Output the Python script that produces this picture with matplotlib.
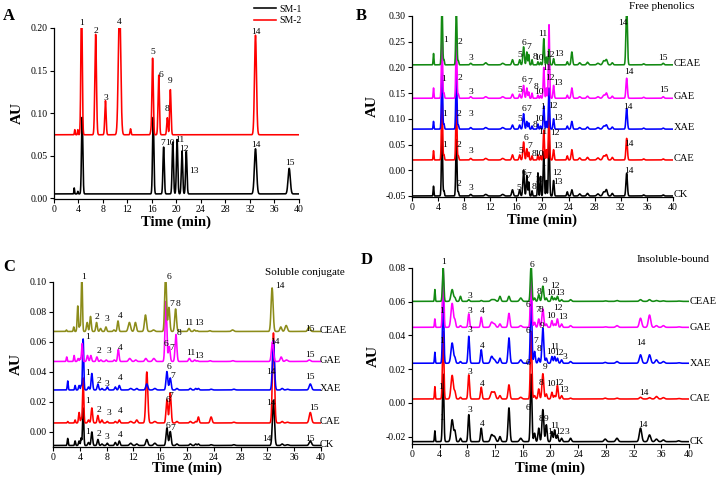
import numpy as np
import matplotlib
matplotlib.use("Agg")
import matplotlib.pyplot as plt

plt.rcParams['font.family'] = ['Liberation Serif', 'DejaVu Serif']

# time axis of every chromatogram (min)
t = np.linspace(0, 40, 4001)

names = ["CK", "CAE", "XAE", "GAE", "CEAE"]

# ---------------- A: standards (peak time, height above baseline, sigma)
a_sm1_base = 0.005
a_sm1_t = [3.3, 3.9, 4.6, 16.2, 17.9, 19.4, 20.1, 20.9, 21.6, 32.9, 38.4]
a_sm1_h = [0.007, 0.003, 0.09, 0.09, 0.055, 0.061, 0.064, 0.05, 0.05, 0.053, 0.03]
a_sm1_w = [0.05, 0.06, 0.11, 0.11, 0.11, 0.11, 0.11, 0.11, 0.11, 0.18, 0.18]

a_sm2_base = 0.0745
a_sm2_t = [3.4, 3.9, 4.5, 6.8, 8.4, 10.7, 12.5, 15.8, 16.1, 17.1, 18.5, 19.0, 32.9]
a_sm2_h = [0.006, 0.006, 0.16, 0.118, 0.04, 0.16, 0.007, 0.003, 0.09, 0.07, 0.02, 0.053, 0.117]
a_sm2_w = [0.06, 0.06, 0.11, 0.13, 0.11, 0.19, 0.08, 0.08, 0.11, 0.11, 0.1, 0.11, 0.16]

a_labels = [("1", 4.46, 0.206), ("2", 6.8, 0.197), ("3", 8.5, 0.118), ("4", 10.7, 0.207),
            ("5", 16.2, 0.172), ("6", 17.4, 0.145), ("8", 18.4, 0.105), ("9", 19.0, 0.1375),
            ("14", 32.9, 0.195), ("7", 17.8, 0.065), ("10", 18.9, 0.065), ("11", 20.5, 0.068),
            ("12", 21.2, 0.058), ("13", 22.9, 0.032), ("14", 32.9, 0.0625), ("15", 38.5, 0.041)]

# ---------------- B: free phenolics
b_base = [-0.05, 0.02, 0.08, 0.14, 0.205]
b_t = [3.3, 4.6, 4.9, 6.8, 7.1, 9.0, 11.3, 13.9, 15.4, 16.5, 17.1, 17.6, 17.9, 18.4, 19.3, 19.7,
       20.2, 20.6, 21.0, 21.7, 23.8, 24.5, 25.7, 26.9, 28.5, 29.4, 29.8, 30.7, 32.9, 35.5, 38.5]
b_w = [0.06, 0.09, 0.07, 0.09, 0.07, 0.12, 0.17, 0.17, 0.12, 0.1, 0.11, 0.09, 0.07, 0.07, 0.07, 0.07,
       0.09, 0.07, 0.09, 0.09, 0.09, 0.11, 0.14, 0.14, 0.17, 0.17, 0.14, 0.12, 0.11, 0.12, 0.12]
b_ck = [0.019, 0.12, 0.01, 0.11, 0.008, 0.003, 0.003, 0.003, 0.012, 0.012, 0.05, 0.04, 0.027, 0.01, 0.045, 0.038,
        0.086, 0.03, 0.12, 0.03, 0.008, 0.012, 0.004, 0.005, 0.004, 0.008, 0.012, 0.005, 0.044, 0.002, 0.002]
b_cae = [0.018, 0.12, 0.01, 0.11, 0.008, 0.003, 0.003, 0.003, 0.01, 0.01, 0.035, 0.022, 0.015, 0.008, 0.01, 0.008,
         0.058, 0.02, 0.09, 0.02, 0.008, 0.02, 0.004, 0.005, 0.004, 0.008, 0.01, 0.005, 0.042, 0.002, 0.002]
b_xae = [0.015, 0.12, 0.01, 0.11, 0.008, 0.003, 0.003, 0.003, 0.008, 0.008, 0.03, 0.015, 0.012, 0.006, 0.01, 0.006,
         0.045, 0.015, 0.08, 0.02, 0.006, 0.015, 0.003, 0.004, 0.003, 0.006, 0.008, 0.004, 0.04, 0.002, 0.002]
b_gae = [0.02, 0.12, 0.01, 0.11, 0.008, 0.003, 0.003, 0.003, 0.008, 0.008, 0.025, 0.02, 0.012, 0.01, 0.006, 0.005,
         0.06, 0.02, 0.143, 0.025, 0.006, 0.02, 0.003, 0.004, 0.003, 0.006, 0.01, 0.004, 0.039, 0.002, 0.003]
b_ceae = [0.022, 0.12, 0.01, 0.11, 0.008, 0.003, 0.004, 0.003, 0.01, 0.01, 0.035, 0.025, 0.02, 0.01, 0.006, 0.005,
          0.051, 0.015, 0.03, 0.012, 0.006, 0.025, 0.004, 0.005, 0.003, 0.008, 0.01, 0.004, 0.12, 0.002, 0.003]
b_labels = [
    # CEAE
    ("1", 5.2, 0.253), ("2", 7.3, 0.249), ("3", 9.0, 0.218), ("5", 16.5, 0.224), ("6", 17.2, 0.248),
    ("7", 17.9, 0.24), ("8", 18.8, 0.221), ("10", 19.5, 0.219), ("11", 20.1, 0.264), ("12", 21.2, 0.225),
    ("13", 22.5, 0.227), ("14", 32.4, 0.286), ("15", 38.5, 0.219),
    # GAE
    ("1", 4.9, 0.177), ("2", 7.4, 0.18), ("3", 9.1, 0.153), ("5", 16.5, 0.157), ("6", 17.1, 0.175),
    ("7", 18.0, 0.171), ("8", 19.0, 0.162), ("10", 19.5, 0.153), ("11", 20.6, 0.198), ("12", 21.1, 0.18),
    ("13", 22.3, 0.169), ("14", 33.2, 0.191), ("15", 38.6, 0.156),
    # XAE
    ("1", 5.0, 0.110), ("2", 7.2, 0.11), ("3", 9.0, 0.11), ("5", 16.5, 0.099), ("6", 17.1, 0.12),
    ("7", 17.9, 0.12), ("8", 18.8, 0.088), ("10", 19.5, 0.1), ("1", 20.0, 0.123), ("12", 21.6, 0.125),
    ("13", 22.3, 0.102), ("14", 33.1, 0.123),
    # CAE
    ("1", 5.0, 0.049), ("2", 7.2, 0.05), ("3", 9.0, 0.038), ("5", 16.7, 0.037), ("6", 17.5, 0.063),
    ("7", 18.0, 0.047), ("8", 18.7, 0.032), ("10", 19.5, 0.032), ("11", 20.1, 0.075), ("12", 21.9, 0.073),
    ("13", 22.3, 0.047), ("14", 33.2, 0.052),
    # CK
    ("2", 7.2, -0.027), ("3", 9.0, -0.034), ("5", 16.4, -0.034), ("6", 17.1, -0.005), ("7", 17.9, -0.011),
    ("8", 18.7, -0.032), ("10", 19.4, -0.019), ("1", 20.1, 0.013), ("12", 22.2, -0.006), ("13", 22.4, -0.023),
    ("14", 33.2, -0.001)]

# ---------------- C: soluble conjugate
c_base = [-0.009, 0.006, 0.028, 0.047, 0.067]
c_shift = [0.0, 0.0, 0.0, -0.15, -0.2]
c_t = [2.2, 3.3, 3.9, 4.2, 4.5, 5.3, 5.8, 6.7, 7.3, 8.1, 9.3, 9.9, 11.6, 12.5, 14.0, 15.2,
       17.0, 17.5, 18.5, 20.5, 21.3, 21.7, 23.6, 27.0, 32.9, 34.2, 35.0, 38.4]
c_w = [0.07, 0.07, 0.09, 0.07, 0.09, 0.11, 0.11, 0.11, 0.11, 0.11, 0.11, 0.11, 0.17, 0.14, 0.15, 0.17,
       0.13, 0.13, 0.13, 0.13, 0.11, 0.11, 0.14, 0.17, 0.15, 0.14, 0.17, 0.17]
c_ck = [0.0047, 0.003, 0.003, 0.005, 0.025, 0.002, 0.009, 0.004, 0.001, 0.0015, 0.002, 0.003, 0.0015, 0.001,
        0.004, 0.0015, 0.0117, 0.0093, 0.001, 0.001, 0.001, 0.001, 0.0005, 0.0005, 0.03, 0.001, 0.0005, 0.003]
c_cae = [0.001, 0.002, 0.007, 0.003, 0.03, 0.002, 0.01, 0.005, 0.002, 0.001, 0.001, 0.002, 0.001, 0.002,
         0.034, 0.001, 0.0155, 0.02, 0.001, 0.001, 0.001, 0.004, 0.004, 0.0005, 0.06, 0.001, 0.0005, 0.007]
c_xae = [0.006, 0.003, 0.003, 0.003, 0.034, 0.002, 0.011, 0.004, 0.001, 0.002, 0.002, 0.003, 0.001, 0.001,
         0.004, 0.001, 0.0123, 0.008, 0.001, 0.001, 0.001, 0.001, 0.0005, 0.0005, 0.033, 0.001, 0.0005, 0.004]
c_gae = [0.003, 0.004, 0.002, 0.002, 0.012, 0.004, 0.004, 0.003, 0.001, 0.001, 0.001, 0.008, 0.002, 0.001,
         0.002, 0.002, 0.04, 0.01, 0.018, 0.002, 0.001, 0.0005, 0.0005, 0.0005, 0.013, 0.003, 0.001, 0.001]
c_ceae = [0.001, 0.003, 0.017, 0.004, 0.04, 0.006, 0.01, 0.006, 0.002, 0.003, 0.001, 0.007, 0.006, 0.006,
          0.011, 0.001, 0.04, 0.016, 0.015, 0.002, 0.001, 0.0005, 0.0005, 0.001, 0.029, 0.003, 0.004, 0.003]
c_labels = [
    ("1", 4.6, 0.1035), ("2", 6.6, 0.0765), ("3", 8.1, 0.075), ("4", 10.1, 0.077), ("6", 17.3, 0.103),
    ("7", 17.7, 0.085), ("8", 18.6, 0.085), ("11", 20.2, 0.0725), ("13", 21.8, 0.0725), ("14", 33.8, 0.097),
    ("15", 38.4, 0.0685),
    ("1", 5.1, 0.0636), ("2", 6.9, 0.054), ("3", 8.3, 0.0537), ("4", 10.1, 0.056), ("6", 16.9, 0.0588),
    ("7", 17.7, 0.056), ("8", 18.8, 0.0663), ("11", 20.5, 0.0525), ("13", 21.8, 0.0508), ("14", 33.1, 0.0603),
    ("15", 38.3, 0.0514),
    ("1", 5.1, 0.0392), ("2", 6.9, 0.0337), ("3", 8.1, 0.0322), ("4", 10.0, 0.036), ("6", 17.3, 0.0432),
    ("7", 17.8, 0.0375), ("14", 32.5, 0.0397), ("15", 38.4, 0.0366),
    ("1", 5.1, 0.0208), ("2", 6.9, 0.0144), ("3", 8.3, 0.0126), ("4", 10.0, 0.0137), ("6", 17.1, 0.0211),
    ("7", 17.6, 0.0242), ("14", 32.5, 0.0193), ("15", 38.9, 0.016),
    ("1", 5.2, -0.0002), ("2", 6.8, -0.0011), ("3", 8.1, -0.0033), ("4", 10.0, -0.0018), ("6", 17.1, 0.0042),
    ("7", 17.8, 0.0027), ("14", 31.9, -0.0047), ("15", 38.4, -0.0047)]

# ---------------- D: insoluble-bound
d_base = [-0.023, 0.0023, 0.0235, 0.0448, 0.0602]
d_t = [3.3, 4.5, 5.8, 6.2, 7.0, 8.2, 10.0, 11.5, 11.9, 12.7, 14.0, 15.7, 17.2, 17.7, 18.3, 18.9, 19.4,
       20.2, 20.6, 21.0, 21.6, 22.9, 27.9, 29.6, 33.0, 34.3, 35.3, 36.3, 38.5]
d_w = [0.06, 0.1, 0.17, 0.11, 0.11, 0.11, 0.11, 0.17, 0.17, 0.13, 0.13, 0.17, 0.11, 0.11, 0.11, 0.13, 0.11,
       0.11, 0.11, 0.11, 0.11, 0.13, 0.17, 0.17, 0.17, 0.17, 0.17, 0.17, 0.17]
d_ck = [0.0064, 0.04, 0.013, 0.006, 0.002, 0.016, 0.008, 0.004, 0.003, 0.003, 0.020, 0.002, 0.04, 0.005, 0.008,
        0.019, 0.01, 0.006, 0.007, 0.004, 0.002, 0.002, 0.0015, 0.002, 0.008, 0.004, 0.0015, 0.001, 0.0005]
d_cae = [0.0073, 0.04, 0.014, 0.004, 0.001, 0.0143, 0.007, 0.004, 0.004, 0.002, 0.0084, 0.001, 0.04, 0.002, 0.006,
         0.015, 0.003, 0.004, 0.002, 0.008, 0.002, 0.0005, 0.0005, 0.0005, 0.001, 0.0008, 0.0015, 0.0008, 0.0003]
d_xae = [0.0065, 0.04, 0.012, 0.003, 0.001, 0.016, 0.008, 0.004, 0.002, 0.003, 0.015, 0.002, 0.04, 0.007, 0.003,
         0.021, 0.003, 0.004, 0.004, 0.003, 0.002, 0.001, 0.0005, 0.001, 0.005, 0.005, 0.002, 0.001, 0.0003]
d_gae = [0.005, 0.035, 0.0142, 0.004, 0.001, 0.008, 0.006, 0.003, 0.002, 0.002, 0.0083, 0.001, 0.03, 0.003, 0.005,
         0.011, 0.002, 0.004, 0.002, 0.005, 0.002, 0.001, 0.0003, 0.001, 0.0054, 0.0073, 0.001, 0.001, 0.0003]
d_ceae = [0.007, 0.02, 0.007, 0.002, 0.003, 0.001, 0.0005, 0.001, 0.001, 0.003, 0.003, 0.002, 0.022, 0.002, 0.004,
          0.009, 0.002, 0.003, 0.002, 0.003, 0.001, 0.001, 0.0003, 0.0005, 0.001, 0.001, 0.0005, 0.0003, 0.0002]
d_labels = [
    ("1", 4.6, 0.0838), ("3", 8.4, 0.0634), ("6", 17.3, 0.0818), ("8", 18.3, 0.066), ("9", 19.2, 0.0725),
    ("10", 20.0, 0.065), ("12", 20.7, 0.0693), ("13", 21.4, 0.065),
    ("1", 4.3, 0.0547), ("3", 8.4, 0.0547), ("4", 10.1, 0.0547), ("6", 16.7, 0.0581), ("7", 18.1, 0.055),
    ("8", 18.6, 0.055), ("10", 20.1, 0.0515), ("12", 21.1, 0.0565), ("13", 21.8, 0.0511),
    ("1", 4.2, 0.0369), ("3", 8.3, 0.0432), ("4", 10.1, 0.0338), ("6", 16.7, 0.0427), ("7", 17.9, 0.0367),
    ("8", 18.4, 0.032), ("9", 18.8, 0.0456), ("10", 20.0, 0.0304), ("11", 20.6, 0.033), ("12", 21.2, 0.0298),
    ("3", 22.1, 0.0274), ("14", 33.0, 0.0353),
    ("1", 4.1, 0.0097), ("3", 8.3, 0.0185), ("4", 10.2, 0.0112), ("6", 16.8, 0.0235), ("8", 18.6, 0.0116),
    ("9", 19.2, 0.0215), ("10", 20.1, 0.011), ("12", 21.2, 0.012), ("13", 22.0, 0.0077), ("14", 33.5, 0.006),
    ("1", 4.2, -0.0091), ("3", 8.3, -0.0042), ("4", 10.2, -0.0127), ("6", 16.7, -0.0032), ("8", 18.6, -0.0097),
    ("9", 19.4, -0.0097), ("1", 19.9, -0.017), ("11", 20.6, -0.0135), ("12", 21.4, -0.017), ("3", 22.3, -0.017),
    ("14", 33.3, -0.013)]


def trace(base, times, heights, widths, shift=0.0):
    y = np.full_like(t, base)
    for ti, hi, wi in zip(times, heights, widths):
        y += hi * np.exp(-0.5 * ((t - ti - shift) / wi) ** 2)
    return y


def style(ax, ylim, yticks, xlab_y, ylab_x):
    ax.set_xlim(0, 40)
    ax.set_ylim(*ylim)
    ax.set_xticks(np.arange(0, 41, 4))
    ax.set_yticks(yticks)
    ax.yaxis.set_major_formatter(matplotlib.ticker.FormatStrFormatter('%.2f'))
    for s in ['top', 'right']:
        ax.spines[s].set_visible(False)
    for s in ['left', 'bottom']:
        ax.spines[s].set_linewidth(0.9)
    ax.tick_params(direction='out', length=3, width=0.8, labelsize=7, pad=1.5)
    ax.set_xlabel("Time (min)", fontsize=10.5, fontweight='bold')
    ax.set_ylabel("AU", fontsize=11, fontweight='bold')
    ax.xaxis.set_label_coords(0.5, xlab_y)
    ax.yaxis.set_label_coords(ylab_x, 0.5)


def put_labels(ax, labels):
    for txt, x, y in labels:
        ax.text(x, y, txt, fontsize=6.8, ha='center', va='center')


fig = plt.figure(figsize=(7.18, 4.8), dpi=100)
LW = 1.15

# A
axA = fig.add_axes([0.0752, 0.5854, 0.3412, 0.3563])
axA.plot(t, trace(a_sm1_base, a_sm1_t, a_sm1_h, a_sm1_w), color='black', lw=LW, label='SM-1')
axA.plot(t, trace(a_sm2_base, a_sm2_t, a_sm2_h, a_sm2_w), color='red', lw=LW, label='SM-2')
style(axA, (-0.001, 0.20), np.arange(0, 0.201, 0.05), -0.094, -0.122)
put_labels(axA, a_labels)
axA.legend(loc='upper left', bbox_to_anchor=(0.80, 1.16), frameon=False, fontsize=7,
           handlelength=2.3, handletextpad=0.3, labelspacing=0.25, borderaxespad=0)

colors = ['black', 'red', 'blue', '#ff00ff', '#138a13']

# B
axB = fig.add_axes([0.5738, 0.5896, 0.3635, 0.3771])
for base, hs, c in zip(b_base, [b_ck, b_cae, b_xae, b_gae, b_ceae], colors):
    axB.plot(t, trace(base, b_t, hs, b_w), color=c, lw=LW)
for base, n in zip(b_base, names):
    axB.text(40.1, base + 0.003, n, fontsize=7.5, ha='left', va='center', clip_on=False)
style(axB, (-0.052, 0.30), np.arange(-0.05, 0.301, 0.05), -0.094, -0.126)
put_labels(axB, b_labels)
axB.text(0.958, 1.05, "Free phenolics", transform=axB.transAxes, fontsize=8, ha='center', va='center')

# C
axC = fig.add_axes([0.0738, 0.0688, 0.3733, 0.3438])
c_colors = ['black', 'red', 'blue', '#ff00ff', '#8c8c1a']
for base, hs, c, sh in zip(c_base, [c_ck, c_cae, c_xae, c_gae, c_ceae], c_colors, c_shift):
    axC.plot(t, trace(base, c_t, hs, c_w, sh), color=c, lw=LW)
for base, n in zip(c_base, names):
    axC.text(39.8, base + 0.0008, n, fontsize=7.5, ha='left', va='center', clip_on=False)
style(axC, (-0.01, 0.10), np.arange(0, 0.101, 0.02), -0.091, -0.112)
put_labels(axC, c_labels)
axC.text(0.94, 1.06, "Soluble conjugate", transform=axC.transAxes, fontsize=8, ha='center', va='center')

# D
axD = fig.add_axes([0.5738, 0.075, 0.3858, 0.3667])
for base, hs, c in zip(d_base, [d_ck, d_cae, d_xae, d_gae, d_ceae], colors):
    axD.plot(t, trace(base, d_t, hs, d_w), color=c, lw=LW)
for base, n in zip(d_base, names):
    axD.text(40.1, base, n, fontsize=7.5, ha='left', va='center', clip_on=False)
style(axD, (-0.0244, 0.08), np.arange(-0.02, 0.081, 0.02), -0.102, -0.116)
put_labels(axD, d_labels)
axD.text(0.942, 1.05, "Insoluble-bound", transform=axD.transAxes, fontsize=8, ha='center', va='center')

# panel letters
for x, y, s in [(0.012, 0.967, "A"), (0.503, 0.967, "B"), (0.013, 0.443, "C"), (0.511, 0.458, "D")]:
    fig.text(x, y, s, fontsize=12, fontweight='bold', ha='center', va='center')

fig.savefig("out.png", dpi=100)
